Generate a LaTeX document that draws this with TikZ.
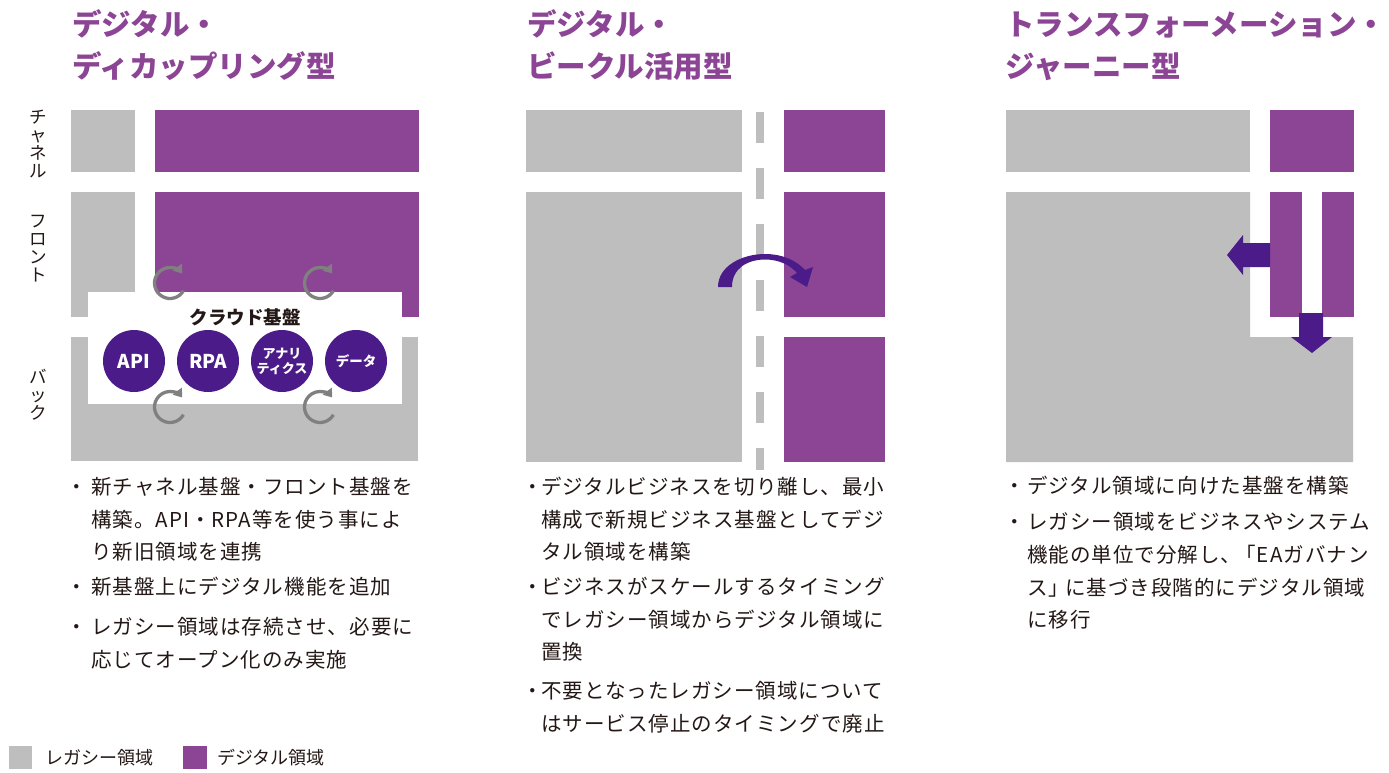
\documentclass[tikz,border=0pt]{standalone}
\usepackage{fontspec}
\usetikzlibrary{arrows.meta}
\setmainfont{Noto Sans CJK JP}
\newfontfamily\bodyfont[LetterSpace=5]{Noto Sans CJK JP}
\definecolor{lgray}{HTML}{BEBEBE}
\definecolor{dpurple}{HTML}{8C4595}
\definecolor{deep}{HTML}{4B1C89}
\definecolor{ink}{HTML}{231815}
\definecolor{rgray}{HTML}{808080}
\begin{document}
\begin{tikzpicture}[x=1pt,y=-1pt,
  legacy/.style={fill=lgray},
  digital/.style={fill=dpurple},
  title/.style={anchor=west,inner sep=0pt,text=dpurple,font=\bfseries\fontsize{29.5}{34}\selectfont,text height=26pt,text depth=3.5pt},
  body/.style={anchor=west,inner sep=0pt,text=ink,font=\bodyfont\fontsize{20.5}{24}\selectfont,text height=18pt,text depth=2.4pt},
  bul/.style={inner sep=0pt,text=ink,font=\bodyfont\fontsize{20.5}{24}\selectfont,text height=18pt,text depth=2.4pt},
  side/.style={inner sep=0pt,text=ink,align=center,font=\fontsize{17.5}{18}\selectfont},
  legend/.style={anchor=west,inner sep=0pt,text=ink,font=\fontsize{18}{20}\selectfont,text height=15.8pt,text depth=2.2pt},
  svc/.style={circle,fill=deep,minimum size=62pt,inner sep=0pt,text=white,align=center},
  rot/.style={draw=rgray,line width=3.3pt,-{Triangle[length=8pt,width=11pt]}},
  deeparrow/.style={fill=deep}]
\useasboundingbox (0,0) rectangle (1389,772);
\fill[white] (0,0) rectangle (1389,772);

% ---------- titles ----------
\node[title] (t1a) at (72,24) {デジタル・};
\node[title] (t1b) at (72,66) {ディカップリング型};
\node[title] (t2a) at (527,24) {デジタル・};
\node[title] (t2b) at (527,66) {ビークル活用型};
\node[title] (t3a) at (1005,24) {トランスフォーメーション・};
\node[title] (t3b) at (1005,66) {ジャーニー型};

% ---------- side labels ----------
\node[side] (sch) at (38,143.5) {チ\\ャ\\ネ\\ル};
\node[side] (sfr) at (38,249) {フ\\ロ\\ン\\ト};
\node[side] (sbk) at (38,395) {バ\\ッ\\ク};

% ---------- panel 1 ----------
\fill[legacy] (71,110) rectangle (135,172);
\fill[digital] (155,110) rectangle (419,172);
\fill[legacy] (71,192) rectangle (135,317);
\fill[digital] (155,192) rectangle (419,317);
\fill[legacy] (71,337) rectangle (418,461);
\fill[white] (88,292) rectangle (402,404);
\node[inner sep=0pt,text=ink,font=\bfseries\fontsize{18.5}{22}\selectfont] (cloud) at (245,317) {クラウド基盤};
\node[svc,font=\bfseries\fontsize{19}{22}\selectfont] (api) at (134,361) {API};
\node[svc,font=\bfseries\fontsize{19}{22}\selectfont] (rpa) at (208,361) {RPA};
\node[svc,font=\bfseries\fontsize{13}{15}\selectfont] (ana) at (282,361) {アナリ\\ティクス};
\node[svc,font=\bfseries\fontsize{13.5}{16}\selectfont] (dat) at (356,361) {データ};
\foreach \cx/\cy in {170/283, 320/283, 170/407, 320/407}{
  \draw[rot] (\cx,\cy) ++(30:15.5) arc[start angle=30,end angle=322,radius=15.5];
}

% ---------- panel 2 ----------
\fill[legacy] (526,110) rectangle (742,172);
\fill[legacy] (526,192) rectangle (742,462);
\fill[digital] (784,110) rectangle (885,172);
\fill[digital] (784,192) rectangle (885,317);
\fill[digital] (784,337) rectangle (885,462);
\draw[lgray,line width=7.5pt,dash pattern=on 31pt off 25pt] (760,112) -- (760,470);
\fill[deeparrow] (718,287) .. controls (718,266) and (742,254) .. (765,254)
  .. controls (783,254) and (797,261) .. (805,270)
  -- (813,267) -- (807,287) -- (790,277) -- (797,273)
  .. controls (790,265) and (779,259.5) .. (765,259.5)
  .. controls (748,259.5) and (732,268) .. (732,287) -- cycle;

% ---------- panel 3 ----------
\fill[legacy] (1006,110) rectangle (1250,172);
\fill[digital] (1270,110) rectangle (1354,172);
\fill[legacy] (1006,192) -- (1250,192) -- (1250,337) -- (1353,337) -- (1353,462) -- (1006,462) -- cycle;
\fill[digital] (1270,192) rectangle (1302,317);
\fill[digital] (1322,192) rectangle (1354,317);
\fill[deeparrow] (1270,243) -- (1243,243) -- (1243,235) -- (1227,255) -- (1243,275) -- (1243,267) -- (1270,267) -- cycle;
\fill[deeparrow] (1299,313) -- (1323,313) -- (1323,337) -- (1332,337) -- (1312,353) -- (1291,337) -- (1299,337) -- cycle;

% ---------- bullets panel 1 ----------
\node[bul] (b1a) at (77,487) {・};
\node[body] (l1a) at (91,487) {新チャネル基盤・フロント基盤を};
\node[body] (l1b) at (91,520) {構築。API・RPA等を使う事によ};
\node[body] (l1c) at (91,552) {り新旧領域を連携};
\node[bul] (b1b) at (77,587) {・};
\node[body] (l1d) at (91,587) {新基盤上にデジタル機能を追加};
\node[bul] (b1c) at (77,627) {・};
\node[body] (l1e) at (91,627) {レガシー領域は存続させ、必要に};
\node[body] (l1f) at (91,660) {応じてオープン化のみ実施};

% ---------- bullets panel 2 ----------
\node[bul] (b2a) at (533,487) {・};
\node[body] (l2a) at (541,487) {デジタルビジネスを切り離し、最小};
\node[body] (l2b) at (541,520) {構成で新規ビジネス基盤としてデジ};
\node[body] (l2c) at (541,552) {タル領域を構築};
\node[bul] (b2b) at (533,587) {・};
\node[body] (l2d) at (541,587) {ビジネスがスケールするタイミング};
\node[body] (l2e) at (541,620) {でレガシー領域からデジタル領域に};
\node[body] (l2f) at (541,652) {置換};
\node[bul] (b2c) at (533,691) {・};
\node[body] (l2g) at (541,691) {不要となったレガシー領域について};
\node[body] (l2h) at (541,724) {はサービス停止のタイミングで廃止};

% ---------- bullets panel 3 ----------
\node[bul] (b3a) at (1015,486) {・};
\node[body] (l3a) at (1027,486) {デジタル領域に向けた基盤を構築};
\node[bul] (b3b) at (1015,522) {・};
\node[body] (l3b) at (1027,522) {レガシー領域をビジネスやシステム};
\node[body] (l3c) at (1027,555) {機能の単位で分解し、\kern-6pt「EAガバナン};
\node[body] (l3d) at (1027,588) {ス」\kern-4pt に基づき段階的にデジタル領域};
\node[body] (l3e) at (1027,620) {に移行};

% ---------- legend ----------
\fill[legacy] (9,746) rectangle (32,769);
\node[legend] (lg1) at (45,758) {レガシー領域};
\fill[digital] (183,746) rectangle (207,769);
\node[legend] (lg2) at (217,758) {デジタル領域};
\end{tikzpicture}
\end{document}
